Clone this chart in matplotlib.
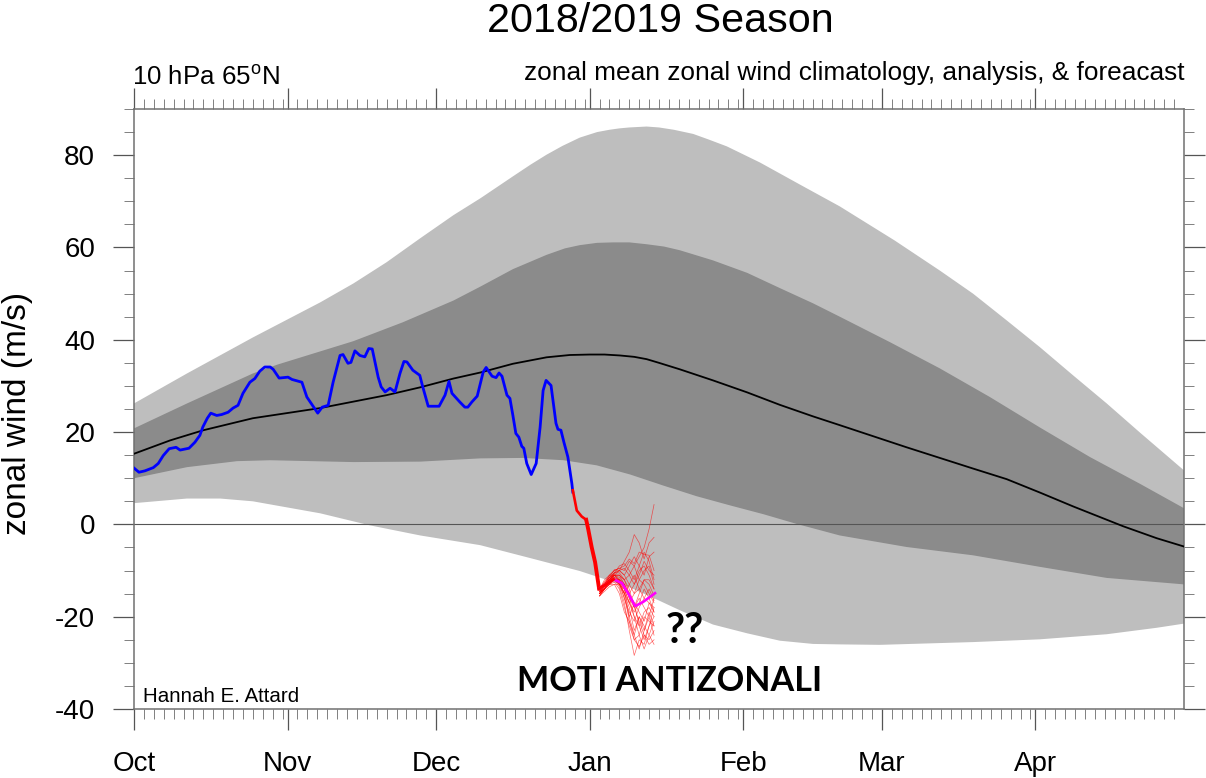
from __future__ import annotations

import matplotlib

matplotlib.use("Agg")
import matplotlib.pyplot as plt
import numpy as np

plt.rcParams["font.family"] = ["Liberation Sans", "DejaVu Sans"]
plt.rcParams["mathtext.fontset"] = "custom"
plt.rcParams["mathtext.rm"] = "Liberation Sans"

# x is days since 1 Oct
month_labels = ["Oct", "Nov", "Dec", "Jan", "Feb", "Mar", "Apr"]
month_starts = [0, 31, 61, 92, 123, 151, 182]
season_end = 212
y_ticks = [-40, -20, 0, 20, 40, 60, 80]

outer_up_day = [0, 10.7, 24, 37.6, 44.3, 51, 57.8, 64.5, 70, 76.5, 80, 83.3, 86.5, 90, 93.5, 96, 98, 100, 103.5, 106,
                109, 112.9, 116, 119.7, 126.4, 134.5, 142.5, 153.6, 162.7, 169.4, 176.2, 182.9, 189.6, 196.4, 203.1, 212]
outer_up_val = [26.2, 32.7, 40.5, 48.1, 52.2, 56.8, 62, 67, 70.7, 75.4, 77.9, 80.1, 82, 83.8, 85, 85.5, 85.8, 86, 86.2, 86,
                85.5, 84.6, 83.4, 81.9, 78.4, 73.6, 68.9, 61.5, 55, 50, 44.2, 38.4, 32.3, 26.2, 19.9, 11.7]
outer_lo_day = [0, 10.7, 17.4, 24, 37.6, 47.6, 57.8, 69.9, 80, 90, 100.2, 105, 110.2, 116.9, 123.8, 130.4,
                137.1, 142.5, 150.6, 169.4, 182.9, 196.4, 206.5, 212]
outer_lo_val = [4.6, 5.6, 5.6, 5, 2.4, -0.2, -2.4, -4.5, -7.3, -10.1, -13.7, -16, -18.6, -21.7, -23.6, -25.2,
                -25.9, -26, -26.1, -25.5, -24.9, -23.8, -22.4, -21.5]
inner_up_day = [0, 10.7, 24, 28.9, 44.3, 54.3, 64.5, 69.9, 76.5, 83.3, 87, 90, 93.5, 96.7, 100, 103.5, 107, 110.2, 116.9,
                123.8, 130.4, 137.1, 142.5, 152.6, 162.7, 172.8, 182.9, 193, 203.1, 212]
inner_up_val = [20.8, 26.2, 32.7, 34.6, 39.7, 43.8, 48.5, 51.5, 55.3, 58.4, 59.8, 60.5, 61, 61.1, 61.1, 60.7, 60.2, 59.4, 57.2,
                54.5, 51.2, 47.9, 45, 39.5, 33.8, 27.6, 21, 14.6, 8.8, 3.5]
inner_lo_day = [0, 10.7, 20.8, 27.5, 44.3, 57.8, 69.9, 78.6, 86.7, 93.4, 100.2, 106.9, 113.6, 120.4, 127.1,
                133.8, 142.5, 156, 169.4, 182.9, 196.4, 212]
inner_lo_val = [10, 12.4, 13.7, 13.9, 13.5, 13.6, 14.3, 14.4, 13.9, 12.8, 10.8, 8.4, 6.1, 4.1, 2.2,
                0.1, -2.4, -4.9, -6.7, -9.2, -11.6, -13]
clim_day = [0, 7.3, 14, 24, 37.6, 51, 57.8, 64.5, 69.9, 76.5, 83.3, 88, 92, 95, 98.1, 101, 103.5, 106, 110.2, 116.9, 123.8,
            130.4, 137.1, 142.5, 156, 169.4, 176.2, 182.9, 189.6, 199.7, 206.5, 212]
clim_val = [15.3, 18.2, 20.4, 23, 25.2, 28, 29.7, 31.6, 32.9, 34.8, 36.2, 36.7, 36.8, 36.8, 36.6, 36.3, 35.8, 35, 33.6, 31.2, 28.6,
            25.9, 23.4, 21.5, 16.7, 12.1, 9.8, 6.9, 3.9, -0.4, -3, -4.8]

analysis_day = [0, 1, 2.2, 3.9, 4.9, 5.9, 7.1, 8.5, 9.3, 11.1, 12.3, 13.3, 13.9, 14.8, 15.5, 16.7, 17.7, 19,
                20, 21, 22, 23.4, 24.4, 25.4, 26.4, 27.5, 28.1, 29.3, 31.1, 31.9, 33.9, 34.9, 37.1, 38, 39.2,
                40.2, 41.6, 42.2, 43.2, 43.8, 44.6, 45.6, 46.6, 47.4, 48.1, 49.3, 49.9, 50.7, 51.7, 52.7,
                53.7, 54.5, 55.1, 56.3, 57.7, 58.3, 59.4, 61.6, 62.8, 63.6, 64.2, 65.8, 66.8, 67.4, 68.2,
                69.3, 70.5, 71.1, 72.3, 73.1, 73.7, 74.3, 75.3, 75.9, 76.5, 77.1, 77.7, 78.3, 78.7, 79.3,
                80.2, 81.2, 82, 82.6, 83.2, 84.2, 85.2, 85.6, 86.2, 86.8, 87.6, 88.4, 88.6]
analysis_val = [12.2, 11.3, 11.6, 12.3, 13.2, 14.9, 16.4, 16.7, 16.1, 16.5, 17.8, 19.3, 21.1, 23, 24.1, 23.6, 23.8, 24.3,
                25.2, 25.8, 28.4, 30.8, 31.6, 33.2, 34.1, 34.1, 33.6, 31.7, 31.9, 31.4, 30.8, 27.6, 24.1, 25.4, 25.8,
                30.8, 36.6, 36.8, 34.9, 35.1, 37.6, 36.6, 36.3, 38.1, 38, 31.9, 29.8, 28.7, 29.5, 28.7,
                32.7, 35.3, 35.2, 33.4, 32.3, 29.8, 25.6, 25.6, 28, 31, 28.4, 26.5, 25.4, 25.4, 26.5,
                27.8, 33, 34, 32.1, 31.8, 32.8, 32.1, 28, 27.3, 23.6, 19.7, 18.9, 16.9, 16.5, 13.2,
                10.8, 13.2, 21.1, 29, 31.2, 30.1, 21.9, 20.6, 20.4, 17.8, 14.6, 8.9, 7]

recent_day = [88.6, 89.4, 90.4, 91.3, 91.7, 92.4, 93.1, 93.9]
recent_val = [7.4, 3, 1.7, 1, -1, -4.9, -8.2, -13.9]
mean_day = [93.9, 95.5, 96.8, 98.5, 99.8, 101.2, 102.8, 105.2]
mean_val = [-13.9, -12.9, -11.9, -12.7, -15, -17.7, -16.8, -14.9]

member_days = [94, 95, 96, 97, 98, 99, 100, 101, 102, 103, 104, 105]
members = [
    [-14.5, -13, -12, -11, -11, -12, -11, -9, -7, -5, -1, 4.3],
    [-14, -13, -11.5, -10.5, -10, -8, -6, -2.2, -4, -7.5, -4, -2.8],
    [-14, -12.5, -11, -10, -9.5, -9, -7.5, -8.5, -6, -6.5, -6.7, -10],
    [-15, -13, -12, -10.5, -9, -8.5, -10, -12, -9, -6, -8, -12],
    [-14, -12, -11, -10, -9.5, -10, -8, -9, -12, -10, -9, -13],
    [-15, -14, -12.5, -12, -12, -13, -15, -13, -10, -9, -11, -14],
    [-15, -13.5, -13, -12, -12, -14, -17, -15, -14, -12, -13, -15.5],
    [-14.5, -13, -12, -12, -13, -15, -13, -11, -14, -16, -14, -16.5],
    [-15.5, -14, -13, -12, -13, -16, -19, -21, -18, -16, -17, -19],
    [-15, -14, -13, -12.5, -14, -18, -22, -25, -24, -20, -21, -22],
    [-15, -14, -12.5, -12, -13.5, -17, -23, -28.4, -25, -26, -22, -20],
    [-15.5, -14.5, -13.5, -13, -15, -19, -21, -25, -26.5, -24, -25, -23],
    [-14.5, -13, -12, -11, -12, -15, -18, -23, -20, -22, -24, -21],
    [-15, -13, -11.5, -11, -12, -13, -16, -20, -22, -19, -18, -20],
    [-14, -13, -11, -11, -11.5, -13, -15, -17, -19, -21, -17, -18],
    [-15, -13.5, -12, -11, -11, -12, -15, -18, -21, -24, -26, -25],
    [-15, -14, -12, -11.5, -13, -14, -17, -20, -24, -27, -24, -26],
    [-14, -13, -12, -10.5, -10, -11, -13, -15, -12, -13, -15, -17],
    [-15.5, -14, -13, -13, -13, -15, -17, -19, -17, -14, -16, -19],
    [-14.5, -13.5, -12, -11, -10, -9.5, -11, -13, -11, -8, -10, -11],
    [-14, -12.5, -11.5, -9.8, -10, -11, -9, -7, -9, -11, -7, -6],
    [-15, -14, -12, -11, -11, -13, -16, -18, -15, -12, -12, -14],
    [-15, -13.5, -12.5, -11.5, -12, -14, -20, -24, -20, -23, -20, -24],
    [-14.5, -14, -12, -11, -12.5, -16, -20, -17, -22, -25, -22, -18],
    [-14, -13, -11.5, -10.5, -10.5, -12, -14, -18, -16, -18, -20, -16],
    [-15.5, -14, -12.5, -12, -12.5, -15, -21, -24, -27, -23, -19, -22],
]

W, H = 1206, 778


def band(ax: plt.Axes, up_x, up_y, lo_x, lo_y, color: str) -> None:
    xs = np.r_[up_x, lo_x[::-1]]
    ys = np.r_[up_y, lo_y[::-1]]
    ax.fill(xs, ys, color=color, lw=0, zorder=1)


def minor_day_ticks() -> list[int]:
    # every second day, restarting on the 1st of each month
    edges = [*month_starts, season_end]
    ticks = []
    for start, stop in zip(edges[:-1], edges[1:]):
        ticks.extend(range(start + 2, stop, 2))
    return ticks


def put_text(fig: plt.Figure, x: float, y: float, s: str, **kwargs) -> None:
    fig.text(x / W, 1 - y / H, s, **kwargs)


def main() -> None:
    fig = plt.figure(figsize=(W / 100, H / 100), dpi=100)
    ax = fig.add_axes([134 / W, 1 - 709 / H, 1050 / W, 600 / H])

    band(ax, outer_up_day, outer_up_val, outer_lo_day, outer_lo_val, "#BEBEBE")
    band(ax, inner_up_day, inner_up_val, inner_lo_day, inner_lo_val, "#8B8B8B")
    ax.axhline(0, color="#555555", lw=0.8, zorder=2)

    ax.plot(clim_day, clim_val, color="black", lw=1.3, zorder=3)
    ax.plot(analysis_day, analysis_val, color="#0000FF", lw=2.0, zorder=4)
    for member in members:
        ax.plot(member_days, member, color="#FF0000", lw=0.5, alpha=0.6, zorder=5)
    ax.plot(recent_day[:4], recent_val[:4], color="#FF0000", lw=1.9, zorder=6)
    ax.plot(recent_day[3:], recent_val[3:], color="#FF0000", lw=2.8, zorder=6)
    ax.plot(mean_day, mean_val, color="#FF00FF", lw=1.9, zorder=6)
    ax.plot(mean_day[:3], mean_val[:3], color="#FF0000", lw=2.2, zorder=6)

    ax.set_xlim(0, season_end)
    ax.set_ylim(-40, 90)

    ax.set_xticks(month_starts, month_labels)
    ax.set_xticks(minor_day_ticks(), minor=True)
    ax.set_yticks(y_ticks, [str(t) for t in y_ticks])
    ax.set_yticks(np.arange(-35, 95, 5), minor=True)

    ax.tick_params(axis="both", which="major", length=15, width=0.9, color="#555555",
                   top=True, right=True, labelsize=20)
    ax.tick_params(axis="both", which="minor", length=7.5, width=0.7, color="#808080",
                   top=True, right=True)
    ax.tick_params(axis="x", which="major", pad=15)
    ax.tick_params(axis="y", which="major", pad=13)
    for spine in ax.spines.values():
        spine.set_linewidth(1.1)
        spine.set_color("#707070")

    put_text(fig, 660, 32, "2018/2019 Season", fontsize=29.7, ha="center", va="baseline")
    put_text(fig, 132, 85, r"10 hPa 65$^{\mathrm{o}}$N", fontsize=18.6, ha="left", va="baseline")
    put_text(fig, 1185, 80, "zonal mean zonal wind climatology, analysis, & foreacast",
             fontsize=18.9, ha="right", va="baseline")
    put_text(fig, 18, 413, "zonal wind (m/s)", fontsize=24, rotation=90, ha="center", va="center")
    put_text(fig, 143, 702, "Hannah E. Attard", fontsize=14.8, ha="left", va="baseline")
    put_text(fig, 670, 691, "MOTI ANTIZONALI", fontsize=24.6, fontweight="bold", family="Lato",
             ha="center", va="baseline")
    put_text(fig, 685, 643, "??", fontsize=30, fontweight="bold", family="Lato",
             ha="center", va="baseline")

    fig.savefig("out.png", dpi=100, facecolor="white")


if __name__ == "__main__":
    main()
